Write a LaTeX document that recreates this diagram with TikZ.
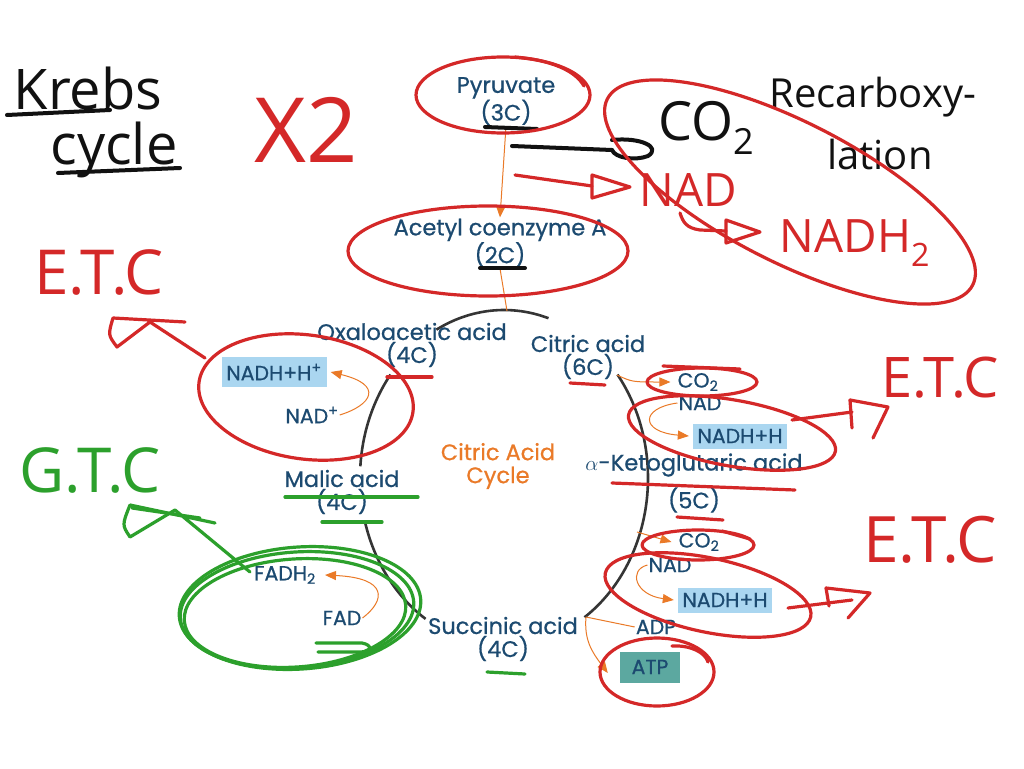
\documentclass[tikz,border=0pt]{standalone}
\usepackage{fontspec}
\setmainfont{Poppins}
\newfontfamily\labfont{Poppins}[FakeBold=0.7]
\newfontfamily\handfont{Open Sans}
\usetikzlibrary{arrows.meta}
\definecolor{dblue}{RGB}{28,74,112}
\definecolor{boxblue}{RGB}{170,214,240}
\definecolor{atpbox}{RGB}{92,168,160}
\definecolor{corange}{RGB}{234,122,40}
\definecolor{pred}{RGB}{212,40,40}
\definecolor{pgreen}{RGB}{44,160,44}
\definecolor{pblack}{RGB}{17,17,17}
\begin{document}
\begin{tikzpicture}[x=1pt,y=-1pt,
  lbl/.style={text=dblue, font=\labfont\fontsize{22.5}{23}\selectfont, align=center, inner sep=1pt},
  sm/.style={text=dblue, font=\labfont\fontsize{20.5}{22}\selectfont, inner sep=1pt},
  bx/.style={sm, fill=boxblue, minimum height=25pt, inner sep=2pt},
  oline/.style={draw=corange, line width=1pt},
  oarr/.style={oline, -{Triangle[length=11pt,width=9pt]}},
  cyc/.style={draw=pblack!85, line width=2.6pt},
  rs/.style={draw=pred, line width=3.2pt, line cap=round, line join=round},
  gs/.style={draw=pgreen, line width=3.2pt, line cap=round, line join=round},
  bs/.style={draw=pblack, line width=4pt, line cap=round, line join=round},
  hw/.style={inner sep=0pt}
]
\useasboundingbox (0,0) rectangle (1024,768);
\fill[white] (0,0) rectangle (1024,768);

% ---- cycle ring
\draw[cyc] plot[domain=72:118, samples=30, smooth] ({504+144*cos(\x)},{478-168*sin(\x)});
\draw[cyc] plot[domain=142:176, samples=30, smooth] ({504+144*cos(\x)},{478-168*sin(\x)});
\draw[cyc] plot[domain=195:237, samples=30, smooth] ({504+144*cos(\x)},{478-168*sin(\x)});
\draw[cyc] plot[domain=-56:38, samples=50, smooth] ({504+144*cos(\x)},{478-168*sin(\x)});

% ---- printed labels
\node[lbl] (pyr) at (506,101) {Pyruvate\\(3C)};
\node[lbl] (acoa) at (500,243) {Acetyl coenzyme A\\(2C)};
\node[lbl] (oxa) at (412,345) {Oxaloacetic acid\\(4C)};
\node[lbl] (cit) at (588,357) {Citric acid\\(6C)};
\node[lbl, text=corange] (cyct) at (498,466) {Citric Acid\\Cycle};
\node[lbl] (akg) at (694,465) {$\alpha$-Ketoglutaric acid};
\node[lbl] (akg5) at (694,500) {(5C)};
\node[lbl] (mal) at (342,492) {Malic acid\\(4C)};
\node[lbl] (suc) at (503,639) {Succinic acid\\(4C)};
\node[bx, minimum width=105pt, minimum height=30pt] (nadhl) at (274,372) {NADH+H\textsuperscript{+}};
\node[sm] (nadl) at (312,415) {NAD\textsuperscript{+}};
\node[sm] (co2a) at (698,382) {CO\textsubscript{2}};
\node[sm] (nada) at (700,403) {NAD};
\node[bx, minimum width=94pt] (nadha) at (740,436) {NADH+H};
\node[sm] (co2b) at (699,542) {CO\textsubscript{2}};
\node[sm] (nadb) at (670,565) {NAD};
\node[bx, minimum width=94pt] (nadhb) at (725,600) {NADH+H};
\node[sm] (adp) at (656,627) {ADP};
\node[bx, fill=atpbox, minimum width=60pt, minimum height=31pt] (atp) at (650,667) {ATP};
\node[sm] (fadh) at (285,575) {FADH\textsubscript{2}};
\node[sm] (fad) at (342,618) {FAD};

% ---- orange connectors
\coordinate (ctop) at (507,311);
\coordinate (c1) at (617,375);
\coordinate (c2) at (637,532);
\coordinate (c3) at (586,617);
\draw[oarr] (pyr.south) -- (acoa.north);
\draw[oline] (acoa.south) -- (ctop);
\draw[oarr] (nadl.east) .. controls (372,405) and (384,385) .. ([xshift=4pt]nadhl.east);
\draw[oarr] (c1) .. controls (632,382) .. ([xshift=-6pt]co2a.west);
\draw[oarr] (nada.west) .. controls (640,408) and (640,432) .. ([xshift=-4pt]nadha.west);
\draw[oarr] (c2) -- ([xshift=-6pt]co2b.west);
\draw[oarr] (nadb.west) .. controls (628,570) and (635,595) .. ([xshift=-4pt]nadhb.west);
\draw[oline] (adp.west) -- (c3);
\draw[oarr] (c3) .. controls (584,640) and (592,652) .. ([xshift=-12pt,yshift=-6pt]atp.west);
\draw[oarr] (fad.east) .. controls (386,600) and (388,578) .. ([xshift=8pt]fadh.east);

% ---- black handwriting
\node[hw, text=pblack, font=\handfont\fontsize{56}{56}\selectfont] (krebs) at (88,88) {Krebs};
\node[hw, text=pblack, font=\handfont\fontsize{56}{56}\selectfont] (cycle) at (114,150) {cycle};
\draw[bs] (7,115) -- (110,110);
\draw[bs] (58,173) -- (180,168);
\draw[bs] (485,127) -- (537,129);
\draw[bs] (480,268) -- (525,268);
\node[hw, text=pblack, font=\handfont\fontsize{54}{54}\selectfont] (co2h) at (706,128) {CO\raisebox{-14pt}{\fontsize{36}{36}\selectfont 2}};
\draw[bs] (512,146) -- (612,150);
\draw[bs] (612,140) .. controls (640,137) and (662,147) .. (648,156) .. controls (635,161) and (615,158) .. (612,150);
\node[hw, text=pblack, font=\handfont\fontsize{40}{40}\selectfont] (recarb) at (873,97) {Recarboxy-};
\node[hw, text=pblack, font=\handfont\fontsize{40}{40}\selectfont] (lation) at (880,154) {lation};

% ---- red handwriting
\node[hw, text=pred, font=\handfont\fontsize{90}{90}\selectfont] (x2) at (306,130) {X2};
\draw[rs] (503,95) ellipse[x radius=87pt, y radius=38pt];
\draw[rs] (515,57) .. controls (550,60) and (575,70) .. (584,86);
\draw[rs] (488,251) ellipse[x radius=140pt, y radius=45pt];
\draw[rs] (515,175) -- (592,186);
\draw[rs] (592,175) -- (630,187) -- (592,198) -- cycle;
\node[hw, text=pred, font=\handfont\fontsize{46}{46}\selectfont] (nadr) at (688,190) {NAD};
\draw[rs] (680,213) .. controls (683,222) and (686,228) .. (700,230) -- (726,231);
\draw[rs] (726,220) -- (760,232) -- (726,243) -- cycle;
\node[hw, text=pred, font=\handfont\fontsize{46}{46}\selectfont] (nadh2) at (855,243) {NADH\textsubscript{2}};
\draw[rs, rotate around={-27:(790,192)}] (790,192) ellipse[x radius=205pt, y radius=70pt];

\node[hw, text=pred, font=\handfont\fontsize{62}{62}\selectfont] (etcl) at (99,272) {E.T.C};
\draw[rs] (185,322) -- (113,318) .. controls (108,335) .. (117,347) -- (150,322) -- (205,358);
\draw[rs, rotate around={-8:(306,397)}] (306,397) ellipse[x radius=108pt, y radius=62pt];
\draw[rs] (387,377) -- (432,377);
\draw[rs] (570,383) -- (605,385);
\draw[rs] (702,382) ellipse[x radius=55pt, y radius=14pt];
\draw[rs] (663,366) -- (740,369);
\draw[rs, rotate around={-10:(732,433)}] (732,433) ellipse[x radius=105pt, y radius=33pt];
\draw[rs] (612,483) -- (795,490);
\draw[rs] (677,517) -- (723,520);
\draw[rs] (792,420) -- (852,412);
\draw[rs] (850,400) -- (888,407) -- (873,438);
\draw[rs] (850,400) -- (852,428);
\node[hw, text=pred, font=\handfont\fontsize{56}{56}\selectfont] (etc1) at (940,378) {E.T.C};

\draw[rs] (698,545) ellipse[x radius=56pt, y radius=15pt];
\draw[rs] (722,531) -- (750,539);
\draw[rs, rotate around={-12:(708,595)}] (708,595) ellipse[x radius=105pt, y radius=37pt];
\draw[rs] (788,608) -- (852,600);
\draw[rs] (826,588) -- (870,593) -- (848,618);
\draw[rs] (826,588) -- (829,606);
\node[hw, text=pred, font=\handfont\fontsize{64}{64}\selectfont] (etc2) at (930,540) {E.T.C};
\draw[rs] (657,672) ellipse[x radius=57pt, y radius=34pt];
\draw[rs] (672,646) .. controls (690,645) and (705,652) .. (708,662);

% ---- green handwriting
\node[hw, text=pgreen, font=\handfont\fontsize{62}{62}\selectfont] (gtc) at (90,470) {G.T.C};
\draw[gs] (215,523) -- (130,505) .. controls (122,525) .. (130,537) -- (175,510) -- (250,572);
\draw[gs] (200,518) -- (132,508);
\draw[gs] (285,497) -- (418,497);
\draw[gs] (322,522) -- (382,522);
\draw[gs] (487,672) -- (525,674);
\draw[gs, rotate around={4:(297,610)}] (297,610) ellipse[x radius=117pt, y radius=58pt];
\draw[gs, rotate around={4:(295,613)}] (295,613) ellipse[x radius=111pt, y radius=54pt];
\draw[gs, rotate around={4:(300,608)}] (300,608) ellipse[x radius=121pt, y radius=61pt];
\draw[gs] (316,643) -- (362,643) .. controls (373,645) and (372,652) .. (360,652) -- (318,652);
\end{tikzpicture}
\end{document}
